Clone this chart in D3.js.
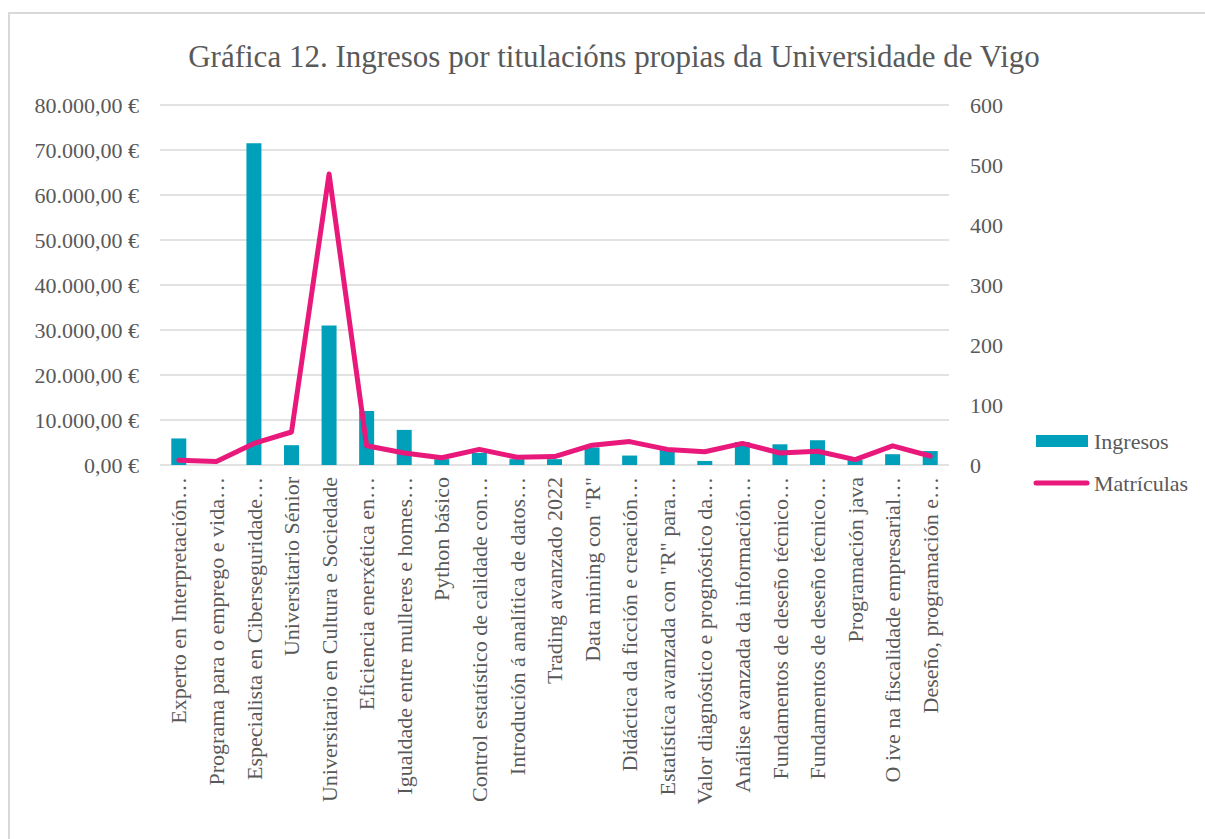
<!DOCTYPE html>
<html>
<head>
<meta charset="utf-8">
<script src="https://cdn.jsdelivr.net/npm/d3@7"></script>
<style>
  html, body { margin: 0; padding: 0; background: #fff; }
  svg { display: block; }
  text { font-family: "Liberation Serif", "DejaVu Serif", serif; fill: #595959; }
</style>
</head>
<body>
<svg id="chart" width="1205" height="839"></svg>
<script>
const categories = [
  "Experto en Interpretación…",
  "Programa para o emprego e vida…",
  "Especialista en Ciberseguridade…",
  "Universitario Sénior",
  "Universitario en Cultura e Sociedade",
  "Eficiencia enerxética en…",
  "Igualdade entre mulleres e homes…",
  "Python básico",
  "Control estatístico de calidade con…",
  "Introdución á analítica de datos…",
  "Trading avanzado 2022",
  "Data mining con \"R\"",
  "Didáctica da ficción e creación…",
  "Estatística avanzada con \"R\" para…",
  "Valor diagnóstico e prognóstico da…",
  "Análise avanzada da información…",
  "Fundamentos de deseño técnico…",
  "Fundamentos de deseño técnico…",
  "Programación java",
  "O ive na fiscalidade empresarial…",
  "Deseño, programación e…"
];
const ingresos = [5900, 0, 71500, 4400, 31000, 12000, 7800, 1300, 2700, 1300, 1300, 3900, 2100, 3500, 900, 5100, 4600, 5500, 1100, 2400, 3100];
const matriculas = [8, 6, 36, 55, 485, 32, 20, 12, 26, 13, 14, 33, 39, 26, 22, 36, 20, 23, 9, 32, 15];
const leftTicks = [0, 10000, 20000, 30000, 40000, 50000, 60000, 70000, 80000];
const rightTicks = [0, 100, 200, 300, 400, 500, 600];
const seriesNames = ["Ingresos", "Matrículas"];
const titleText = "Gráfica 12. Ingresos por titulacións propias da Universidade de Vigo";

const barColor = "#00A0BA";
const lineColor = "#E8197A";

const svg = d3.select("#chart");
const W = 1205, H = 839;
const plot = { left: 160, right: 949, top: 105, bottom: 465 };

// outer border
svg.append("rect")
  .attr("x", 9).attr("y", 13)
  .attr("width", W + 10).attr("height", H + 10)
  .attr("fill", "none").attr("stroke", "#d9d9d9").attr("stroke-width", 2);

// title
svg.append("text")
  .attr("x", 614).attr("y", 67)
  .attr("text-anchor", "middle")
  .style("font-size", "31px")
  .text(titleText);

const xc = d3.scaleBand().domain(d3.range(categories.length))
  .range([plot.left, plot.right]);
const yL = d3.scaleLinear().domain([0, 80000]).range([plot.bottom, plot.top]);
const yR = d3.scaleLinear().domain([0, 600]).range([plot.bottom, plot.top]);

// gridlines
svg.append("g").selectAll("line").data(leftTicks).join("line")
  .attr("x1", plot.left).attr("x2", plot.right)
  .attr("y1", d => yL(d)).attr("y2", d => yL(d))
  .attr("stroke", "#d9d9d9").attr("stroke-width", 1.3);

// left axis labels
const fmt = d => {
  const s = d3.format(",.2f")(d);
  return s.replace(/,/g, "#").replace(".", ",").replace(/#/g, ".") + " €";
};
const leftAxis = d3.axisLeft(yL).tickValues(leftTicks).tickFormat(fmt).tickSize(0).tickPadding(0);
const gL = svg.append("g").attr("transform", `translate(139,0)`).call(leftAxis);
gL.select(".domain").remove();
gL.selectAll("text").style("font-size", "22px").attr("fill", "#595959").style("font-family", "Liberation Serif");

const rightAxis = d3.axisRight(yR).tickValues(rightTicks).tickFormat(d3.format("d")).tickSize(0).tickPadding(0);
const gR = svg.append("g").attr("transform", `translate(970,0)`).call(rightAxis);
gR.select(".domain").remove();
gR.selectAll("text").style("font-size", "22px").attr("fill", "#595959").style("font-family", "Liberation Serif");

// bars
svg.append("g").selectAll("rect").data(ingresos).join("rect")
  .attr("x", (d, i) => xc(i) + xc.bandwidth() / 2 - 7.5)
  .attr("width", 15)
  .attr("y", d => yL(d))
  .attr("height", d => yL(0) - yL(d))
  .attr("fill", barColor);

// line
const line = d3.line()
  .x((d, i) => xc(i) + xc.bandwidth() / 2)
  .y(d => yR(d));
svg.append("path").datum(matriculas)
  .attr("d", line)
  .attr("fill", "none")
  .attr("stroke", lineColor)
  .attr("stroke-width", 5)
  .attr("stroke-linejoin", "round")
  .attr("stroke-linecap", "round");

// category labels
svg.append("g").selectAll("text").data(categories).join("text")
  .attr("transform", (d, i) => `translate(${xc(i) + xc.bandwidth() / 2},477) rotate(-90)`)
  .attr("text-anchor", "end")
  .attr("dy", "0.35em")
  .style("font-size", "22px")
  .text(d => d);

// legend
const lg = svg.append("g");
lg.append("rect").attr("x", 1036).attr("y", 435).attr("width", 52).attr("height", 12).attr("fill", barColor);
lg.append("text").attr("x", 1094).attr("y", 449).style("font-size", "22px").text(seriesNames[0]);
lg.append("line").attr("x1", 1036).attr("x2", 1087).attr("y1", 483).attr("y2", 483)
  .attr("stroke", lineColor).attr("stroke-width", 5).attr("stroke-linecap", "round");
lg.append("text").attr("x", 1094).attr("y", 491).style("font-size", "22px").text(seriesNames[1]);
</script>
</body>
</html>
